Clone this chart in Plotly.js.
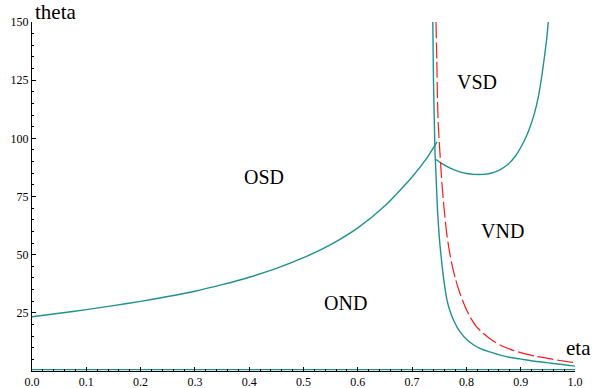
<!DOCTYPE html>
<html>
<head>
<meta charset="utf-8">
<script src="https://cdn.plot.ly/plotly-3.0.1.min.js"></script>
<style>html,body{margin:0;padding:0;background:#fff;}#chart{width:592px;height:388px;}</style>
</head>
<body>
<div id="chart"></div>
<script>
// OSD / OND boundary (rising curve)
const osdEta   = [0.0, 0.05, 0.1, 0.15, 0.2, 0.25, 0.3, 0.35, 0.4, 0.45, 0.5, 0.55, 0.6, 0.65, 0.7, 0.727, 0.746];
const osdTheta = [23.3, 24.8, 26.4, 28.1, 29.9, 32.0, 34.3, 37.1, 40.3, 44.1, 48.7, 54.3, 61.5, 71.0, 83.4, 91.5, 98.5];

// near-vertical teal boundary falling to the right
const vEta   = [0.7381, 0.7394, 0.7409, 0.7422, 0.7437, 0.7468, 0.7505, 0.7551, 0.7597, 0.7643, 0.7698, 0.7762, 0.7827, 0.7901, 0.8005, 0.8122, 0.8250, 0.8398, 0.8558, 0.8766, 0.8987, 0.9227, 0.9479, 0.9724, 1.0];
const vTheta = [150, 124.9, 107.7, 93.6, 86.3, 69.1, 56.2, 45.5, 36.9, 30.5, 25.8, 21.9, 18.9, 16.3, 13.5, 11.4, 9.7, 8.4, 7.3, 6.0, 5.2, 4.3, 3.6, 2.9, 2.1];

// VSD boundary (U-shaped curve)
const uEta   = [0.744, 0.755, 0.77, 0.785, 0.80, 0.815, 0.83, 0.845, 0.86, 0.875, 0.89, 0.905, 0.915, 0.925, 0.933, 0.939, 0.944, 0.948, 0.9508];
const uTheta = [90.9, 89.1, 87.2, 85.8, 84.9, 84.5, 84.5, 85.0, 86.2, 88.5, 92.3, 98.2, 103.5, 110.5, 118.5, 127.0, 135.5, 143.0, 150];

// red dashed curve
const rEta   = [0.7440, 0.7455, 0.7468, 0.7483, 0.7510, 0.7545, 0.7587, 0.7634, 0.7680, 0.7729, 0.7799, 0.7882, 0.7965, 0.8066, 0.8177, 0.8311, 0.8453, 0.8619, 0.8821, 0.9048, 0.9263, 0.9479, 0.9724, 1.0];
const rTheta = [150, 133.5, 116.3, 105.6, 94.8, 82.0, 70.4, 59.7, 52.4, 46.4, 39.5, 33.3, 28.3, 23.3, 19.3, 16.2, 13.5, 11.2, 9.2, 7.6, 6.4, 5.5, 4.5, 3.6];

// bottom teal line
const bEta   = [0.0, 1.0];
const bTheta = [0.6, 0.6];

// region labels
const regionText  = ["OSD", "OND", "VSD", "VND"];
const regionEta   = [0.427, 0.577, 0.8195, 0.8665];
const regionTheta = [83.3, 29.4, 124.3, 60.3];

const xTicks = [0.0, 0.1, 0.2, 0.3, 0.4, 0.5, 0.6, 0.7, 0.8, 0.9, 1.0];
const xTickText = ["0.0", "0.1", "0.2", "0.3", "0.4", "0.5", "0.6", "0.7", "0.8", "0.9", "1.0"];
const yTicks = [25, 50, 75, 100, 125, 150];

const teal = '#1f928d';
const serif = '"Liberation Serif", "Times New Roman", serif';

const traces = [
  {x: bEta, y: bTheta, mode: 'lines', line: {color: teal, width: 1.4}},
  {x: osdEta, y: osdTheta, mode: 'lines', line: {color: teal, width: 1.4, shape: 'spline', smoothing: 0.6}},
  {x: vEta, y: vTheta, mode: 'lines', line: {color: teal, width: 1.4, shape: 'spline', smoothing: 0.5}},
  {x: uEta, y: uTheta, mode: 'lines', line: {color: teal, width: 1.4, shape: 'spline', smoothing: 0.6}},
  {x: rEta, y: rTheta, mode: 'lines', line: {color: '#ff1a1a', width: 1.2, dash: '16px,4px', shape: 'spline', smoothing: 0.5}}
];

const annotations = regionText.map((t, i) => ({
  x: regionEta[i], y: regionTheta[i], xref: 'x', yref: 'y', text: t, showarrow: false,
  font: {family: serif, size: 20, color: '#000'}
}));
annotations.push({x: 0, y: 1, xref: 'paper', yref: 'paper', text: 'theta', showarrow: false,
  xanchor: 'left', yanchor: 'middle', xshift: 1, yshift: 10, font: {family: serif, size: 21, color: '#000'}});
annotations.push({x: 1, y: 0, xref: 'paper', yref: 'paper', text: 'eta', showarrow: false,
  xanchor: 'center', yanchor: 'middle', xshift: 3, yshift: 23, font: {family: serif, size: 21, color: '#000'}});

const layout = {
  width: 592, height: 388,
  margin: {l: 32, r: 17, t: 21.5, b: 17, pad: 0},
  paper_bgcolor: '#fff', plot_bgcolor: '#fff',
  showlegend: false,
  font: {family: serif},
  xaxis: {
    range: [0, 1], showgrid: false, zeroline: false, showline: true, linecolor: '#000', linewidth: 1,
    tickvals: xTicks, ticktext: xTickText, ticks: 'inside', ticklen: 4, tickcolor: '#000', tickwidth: 1,
    minor: {dtick: 0.02, ticks: 'inside', ticklen: 2, tickcolor: '#000', showgrid: false},
    tickfont: {family: serif, size: 12, color: '#000'}, fixedrange: true
  },
  yaxis: {
    range: [0, 150], showgrid: false, zeroline: false, showline: true, linecolor: '#000', linewidth: 1,
    tickvals: yTicks, ticks: 'inside', ticklen: 4, tickcolor: '#000', tickwidth: 1,
    minor: {dtick: 5, ticks: 'inside', ticklen: 2, tickcolor: '#000', showgrid: false},
    tickfont: {family: serif, size: 12, color: '#000'}, fixedrange: true
  },
  annotations: annotations
};

Plotly.newPlot('chart', traces, layout, {staticPlot: true, displayModeBar: false});
</script>
</body>
</html>
